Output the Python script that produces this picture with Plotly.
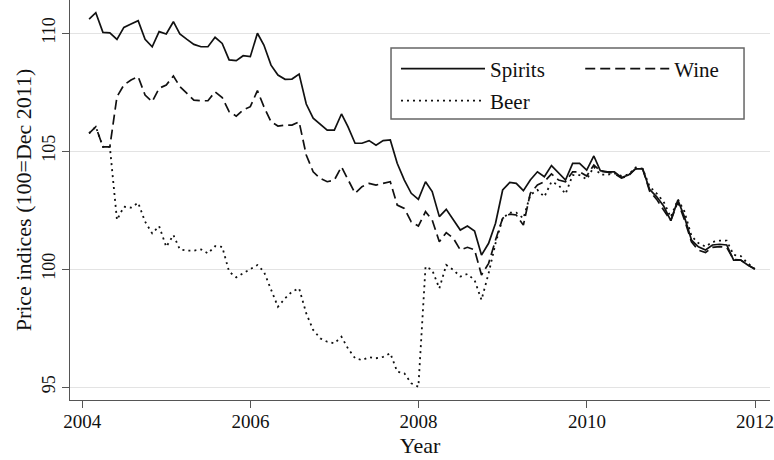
import pandas as pd
import plotly.graph_objects as go

# Monthly price indices, Jan 2004 - Dec 2011 (100 = Dec 2011)
months = pd.date_range("2004-01-31", periods=96, freq="ME")

spirits = [110.59, 110.86, 110.03, 110.01, 109.73, 110.24, 110.38, 110.52, 109.73, 109.42, 110.06, 109.96,
           110.48, 109.96, 109.73, 109.52, 109.42, 109.42, 109.82, 109.56, 108.86, 108.83, 109.04, 109.00,
           109.99, 109.49, 108.64, 108.22, 108.04, 108.05, 108.26, 106.99, 106.39, 106.14, 105.89, 105.89,
           106.57, 106.03, 105.33, 105.33, 105.44, 105.25, 105.44, 105.47, 104.48, 103.77, 103.21, 102.95,
           103.70, 103.28, 102.22, 102.53, 102.08, 101.65, 101.82, 101.61, 100.59, 101.09, 101.94, 103.35,
           103.67, 103.63, 103.32, 103.77, 104.12, 103.91, 104.38, 104.08, 103.77, 104.48, 104.48, 104.19,
           104.79, 104.17, 104.12, 104.12, 103.88, 103.98, 104.24, 104.24, 103.38, 103.06, 102.67, 102.05,
           102.92, 102.22, 101.23, 100.94, 100.81, 101.02, 101.05, 101.02, 100.38, 100.38, 100.17, 100.00]

wine = [105.75, 106.03, 105.18, 105.18, 107.30, 107.80, 108.01, 108.15, 107.37, 107.09, 107.66, 107.80,
        108.18, 107.73, 107.44, 107.16, 107.13, 107.13, 107.51, 107.27, 106.67, 106.48, 106.74, 106.88,
        107.56, 106.88, 106.24, 106.06, 106.10, 106.10, 106.24, 104.83, 104.12, 103.84, 103.70, 103.77,
        104.33, 103.77, 103.21, 103.49, 103.63, 103.56, 103.63, 103.70, 102.71, 102.57, 102.00, 101.82,
        102.43, 102.08, 101.16, 101.54, 101.30, 100.81, 100.92, 100.81, 99.75, 100.24, 101.23, 102.15,
        102.33, 102.29, 101.86, 103.21, 103.56, 103.70, 104.03, 103.77, 103.70, 104.12, 104.12, 103.94,
        104.41, 104.15, 104.10, 104.05, 103.85, 103.95, 104.25, 104.25, 103.30, 102.95, 102.50, 102.05,
        102.85, 102.10, 101.15, 100.80, 100.70, 100.92, 100.95, 100.92, 100.40, 100.38, 100.18, 100.00]

beer = [105.75, 106.03, 105.18, 105.18, 102.08, 102.64, 102.60, 102.81, 102.01, 101.51, 101.82, 100.94,
        101.44, 100.83, 100.78, 100.78, 100.83, 100.66, 100.97, 100.94, 99.89, 99.65, 99.82, 99.99,
        100.17, 99.89, 99.11, 98.40, 98.76, 99.04, 99.18, 98.12, 97.42, 97.06, 96.92, 96.85,
        97.13, 96.64, 96.22, 96.14, 96.26, 96.22, 96.28, 96.43, 95.65, 95.58, 95.16, 95.01,
        100.10, 99.96, 99.18, 100.17, 99.96, 99.68, 99.79, 99.53, 98.69, 99.82, 101.09, 102.15,
        102.39, 102.39, 102.15, 103.14, 103.35, 103.06, 103.70, 103.56, 103.18, 103.98, 103.98, 103.80,
        104.33, 104.00, 104.00, 104.05, 103.95, 104.00, 104.30, 104.25, 103.50, 103.20, 102.85, 102.20,
        102.95, 102.45, 101.40, 101.10, 100.95, 101.15, 101.20, 101.20, 100.60, 100.55, 100.25, 100.00]

x_ticks = ["2004-01-01", "2006-01-01", "2008-01-01", "2010-01-01", "2012-01-01"]
x_tick_labels = ["2004", "2006", "2008", "2010", "2012"]
y_ticks = [95, 100, 105, 110]

FONT = "Liberation Serif"
INK = "#111111"
AX = "#555555"

fig = go.Figure()
fig.add_trace(go.Scatter(x=months, y=beer, name="Beer", mode="lines",
                         line=dict(color=INK, width=1.8, dash="2px,4px"), legend="legend3"))
fig.add_trace(go.Scatter(x=months, y=wine, name="Wine", mode="lines",
                         line=dict(color=INK, width=1.7, dash="10px,5px"), legend="legend2"))
fig.add_trace(go.Scatter(x=months, y=spirits, name="Spirits", mode="lines",
                         line=dict(color=INK, width=1.7), legend="legend"))

leg_common = dict(bgcolor="rgba(0,0,0,0)", borderwidth=0, itemwidth=84,
                  font=dict(family=FONT, size=21, color=INK),
                  xanchor="left", yanchor="middle", itemclick=False, itemdoubleclick=False)

fig.update_layout(
    width=774, height=460,
    margin=dict(l=70, r=4, t=0, b=60, autoexpand=False),
    paper_bgcolor="white", plot_bgcolor="white",
    font=dict(family=FONT, size=18, color=INK),
    showlegend=True,
    legend=dict(x=0.4657, y=0.8275, **leg_common),
    legend2=dict(x=0.7289, y=0.8275, **leg_common),
    legend3=dict(x=0.4657, y=0.7475, **leg_common),
    xaxis=dict(
        type="date", range=["2003-11-09", "2012-03-06"],
        tickvals=x_ticks, ticktext=x_tick_labels,
        showgrid=False, zeroline=False, automargin=False,
        showline=True, linecolor=AX, linewidth=1.3,
        ticks="outside", ticklen=7, tickcolor=AX, tickwidth=1.3,
        ticklabeloverflow="allow", ticklabelstandoff=-3,
        tickfont=dict(family=FONT, size=19, color=INK),
        title=dict(text="Year", font=dict(family=FONT, size=22, color=INK), standoff=6),
    ),
    yaxis=dict(
        range=[94.45, 111.4], tickvals=y_ticks,
        showgrid=True, gridcolor="#e3e3e3", gridwidth=1.2, zeroline=False, automargin=False,
        showline=True, linecolor=AX, linewidth=1.3,
        ticks="outside", ticklen=7, tickcolor=AX, tickwidth=1.3,
        tickangle=-90,
        tickfont=dict(family=FONT, size=18, color=INK),
        title=dict(text="Price indices (100=Dec 2011)", font=dict(family=FONT, size=22, color=INK), standoff=0),
    ),
    shapes=[dict(type="rect", xref="paper", yref="paper",
                 x0=0.4586, x1=0.9629, y0=0.7025, y1=0.88,
                 line=dict(color="#666666", width=1.5), fillcolor="rgba(0,0,0,0)", layer="above")],
)

fig.write_html("out.html", config={"displayModeBar": False},
               post_script="document.body.style.margin='0';document.body.style.overflow='hidden';")
